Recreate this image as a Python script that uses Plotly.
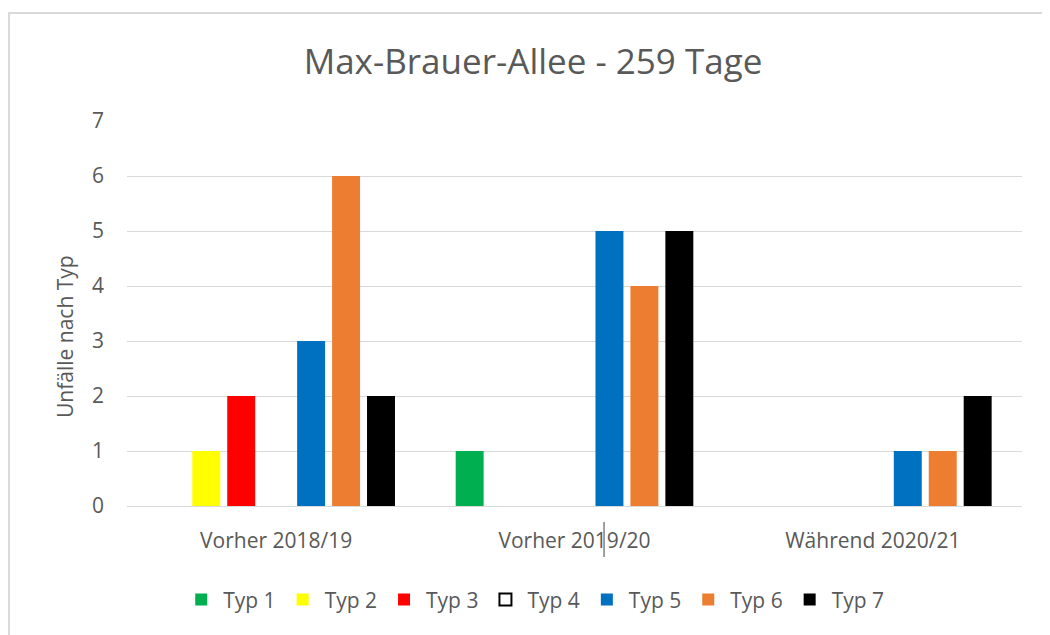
import plotly.graph_objects as go

categories = ["Vorher 2018/19", "Vorher 2019/20", "Während 2020/21"]
series_names = ["Typ 1", "Typ 2", "Typ 3", "Typ 4", "Typ 5", "Typ 6", "Typ 7"]
typ1 = [0, 1, 0]
typ2 = [1, 0, 0]
typ3 = [2, 0, 0]
typ4 = [0, 0, 0]
typ5 = [3, 5, 1]
typ6 = [6, 4, 1]
typ7 = [2, 5, 2]
colors = ["#00B050", "#FFFF00", "#FF0000", "#FFFFFF", "#0070C0", "#ED7D31", "#000000"]
y_ticks = [0, 1, 2, 3, 4, 5, 6, 7]

values = [typ1, typ2, typ3, typ4, typ5, typ6, typ7]

fig = go.Figure()
for name, vals, col in zip(series_names, values, colors):
    is_outline = col == "#FFFFFF"
    fig.add_trace(go.Bar(
        name=name, x=categories, y=[v if v else None for v in vals],
        marker=dict(color=col,
                    line=dict(color="#000000" if is_outline else col,
                              width=2 if is_outline else 0)),
    ))

fig.update_layout(
    width=1050, height=635,
    paper_bgcolor="white", plot_bgcolor="white",
    font=dict(family="Open Sans, Liberation Sans, sans-serif", color="#595959"),
    title=dict(text="Max-Brauer-Allee - 259 Tage", x=0.5, xanchor="center",
               y=0.915, yanchor="middle", font=dict(size=35, color="#595959")),
    margin=dict(l=119, r=36, t=113, b=137),
    barmode="group", bargap=0.18, bargroupgap=0.2,
    showlegend=True,
    legend=dict(orientation="h", x=0.455, xanchor="center", y=-0.244, yanchor="middle",
                font=dict(size=21, color="#595959"), itemwidth=34, traceorder="normal"),
    xaxis=dict(showline=True, linecolor="#d9d9d9", linewidth=1, ticks="",
               ticklabelstandoff=16,
               tickfont=dict(size=21, color="#595959")),
    yaxis=dict(range=[0, 7], tickvals=y_ticks, showgrid=True, gridcolor="#d9d9d9",
               gridwidth=1, zeroline=False, ticks="", ticklabelstandoff=22,
               tickfont=dict(size=21, color="#595959")),
    annotations=[dict(text="Unfälle nach Typ", xref="paper", yref="paper",
                      x=-0.0693, y=0.4416, xanchor="center", yanchor="middle",
                      textangle=-90, showarrow=False,
                      font=dict(size=21, color="#595959"))],
    shapes=[
        dict(type="rect", xref="paper", yref="paper",
             x0=-0.1318, x1=1.06, y0=-0.45, y1=1.2805,
             line=dict(color="#d9d9d9", width=2), fillcolor="rgba(0,0,0,0)", layer="below"),
        dict(type="line", xref="paper", yref="paper",
             x0=0.533, x1=0.533, y0=-0.0416, y1=-0.1325,
             line=dict(color="#404040", width=1)),
    ],
)

fig.write_html("out.html")
